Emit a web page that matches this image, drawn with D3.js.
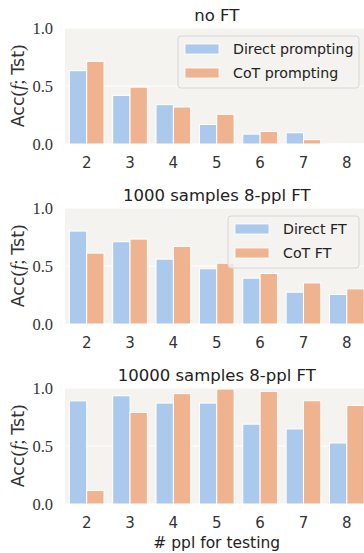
<!DOCTYPE html>
<html>
<head>
<meta charset="utf-8">
<script src="https://cdn.jsdelivr.net/npm/d3@7"></script>
<style>
  html, body { margin: 0; padding: 0; background: #ffffff; }
  svg { display: block; }
</style>
</head>
<body>
<svg id="chart" width="364" height="553"></svg>
<script>
// Number of people used at test time
const categories = ["2", "3", "4", "5", "6", "7", "8"];

// Panel titles
const titles = ["no FT", "1000 samples 8-ppl FT", "10000 samples 8-ppl FT"];

// Legend labels per panel (third panel has no legend)
const legendDirect = ["Direct prompting", "Direct FT", null];
const legendCoT = ["CoT prompting", "CoT FT", null];

// Accuracy values
const directNoFT = [0.632, 0.419, 0.339, 0.168, 0.085, 0.097, 0.004];
const cotNoFT    = [0.712, 0.490, 0.319, 0.256, 0.108, 0.037, 0.003];

const direct1k = [0.801, 0.709, 0.559, 0.476, 0.395, 0.274, 0.254];
const cot1k    = [0.611, 0.732, 0.669, 0.524, 0.435, 0.354, 0.303];

const direct10k = [0.889, 0.933, 0.870, 0.870, 0.688, 0.647, 0.526];
const cot10k    = [0.116, 0.789, 0.951, 0.991, 0.971, 0.890, 0.850];

const yTicks = [0.0, 0.5, 1.0];
const xLabel = "# ppl for testing";

const panels = [
  { title: titles[0], direct: directNoFT, cot: cotNoFT, legD: legendDirect[0], legC: legendCoT[0] },
  { title: titles[1], direct: direct1k,   cot: cot1k,   legD: legendDirect[1], legC: legendCoT[1] },
  { title: titles[2], direct: direct10k,  cot: cot10k,  legD: legendDirect[2], legC: legendCoT[2] }
];

const colDirect = "#abc9ec";
const colCoT = "#efb48f";
const bgCol = "#f4f3ef";

const sansFont = "'DejaVu Sans', sans-serif";
const serifFont = "'Liberation Serif', 'DejaVu Serif', serif";

const svg = d3.select("#chart");

const plotLeft = 65;
const plotRight = 368.5;
const plotH = 116;
const panelTops = [28, 208, 388];

const x = d3.scaleBand()
  .domain(categories)
  .range([plotLeft, plotRight])
  .paddingInner(0.2)
  .paddingOuter(0.1);

// inner scale for the two series within a category
const xSub = d3.scaleBand()
  .domain(["direct", "cot"])
  .range([0, x.bandwidth()]);

panels.forEach((p, i) => {
  const top = panelTops[i];
  const y = d3.scaleLinear().domain([0, 1]).range([top + plotH, top]);
  const g = svg.append("g");

  // plot background
  g.append("rect")
    .attr("x", plotLeft).attr("y", top)
    .attr("width", plotRight - plotLeft).attr("height", plotH)
    .attr("fill", bgCol);

  // horizontal grid lines
  g.selectAll("line.grid").data(yTicks).enter().append("line")
    .attr("x1", plotLeft).attr("x2", plotRight)
    .attr("y1", d => y(d)).attr("y2", d => y(d))
    .attr("stroke", "#ffffff").attr("stroke-width", 1);

  // bars
  const rows = categories.map((c, k) => ({ c, direct: p.direct[k], cot: p.cot[k] }));
  const grp = g.selectAll("g.cat").data(rows).enter().append("g")
    .attr("transform", d => `translate(${x(d.c)},0)`);
  ["direct", "cot"].forEach(key => {
    grp.append("rect")
      .attr("x", xSub(key))
      .attr("width", xSub.bandwidth())
      .attr("y", d => y(d[key]))
      .attr("height", d => y(0) - y(d[key]))
      .attr("fill", key === "direct" ? colDirect : colCoT)
      .attr("stroke", "#ffffff")
      .attr("stroke-width", 1);
  });

  // y tick labels
  g.selectAll("text.ytick").data(yTicks).enter().append("text")
    .attr("x", 53).attr("y", d => y(d))
    .attr("dy", "0.35em")
    .attr("text-anchor", "end")
    .attr("font-family", serifFont)
    .attr("font-size", 16.5)
    .attr("fill", "#333333")
    .text(d => d.toFixed(1));

  // x tick labels
  g.selectAll("text.xtick").data(categories).enter().append("text")
    .attr("x", d => x(d) + x.bandwidth() / 2)
    .attr("y", top + plotH + 19)
    .attr("dy", "0.35em")
    .attr("text-anchor", "middle")
    .attr("font-family", sansFont)
    .attr("font-size", 15)
    .attr("fill", "#333333")
    .text(d => d);

  // title
  g.append("text")
    .attr("x", (plotLeft + plotRight) / 2)
    .attr("y", top - 13)
    .attr("dy", "0.35em")
    .attr("text-anchor", "middle")
    .attr("font-family", sansFont)
    .attr("font-size", 16.5)
    .attr("fill", "#222222")
    .text(p.title);

  // y axis label: Acc(f;Tst)
  const yl = g.append("text")
    .attr("transform", `translate(24,${top + plotH / 2}) rotate(-90)`)
    .attr("text-anchor", "middle")
    .attr("font-size", 17.5)
    .attr("fill", "#333333");
  yl.append("tspan").attr("font-family", sansFont).text("Acc");
  yl.append("tspan").attr("font-family", serifFont).attr("font-size", 19).text("(");
  yl.append("tspan").attr("font-family", serifFont).attr("font-style", "italic").attr("font-size", 19).text("f");
  yl.append("tspan").attr("font-family", serifFont).attr("font-size", 19).text("; ");
  yl.append("tspan").attr("font-family", sansFont).text("Tst");
  yl.append("tspan").attr("font-family", serifFont).attr("font-size", 19).text(")");

  // legend
  if (p.legD) {
    const lw = i === 0 ? 181 : 131;
    const lx = 359 - lw;
    const ly = top + 8;
    const lg = g.append("g");
    lg.append("rect")
      .attr("x", lx).attr("y", ly).attr("width", lw).attr("height", 52)
      .attr("rx", 3).attr("ry", 3)
      .attr("fill", bgCol).attr("fill-opacity", 0.8)
      .attr("stroke", "#d6d6d6").attr("stroke-width", 1);
    const items = [{ label: p.legD, color: colDirect }, { label: p.legC, color: colCoT }];
    items.forEach((it, k) => {
      const cy = ly + 13 + k * 24;
      lg.append("rect")
        .attr("x", lx + 7).attr("y", cy - 5)
        .attr("width", 34).attr("height", 10)
        .attr("fill", it.color).attr("stroke", "#ffffff").attr("stroke-width", 0.8);
      lg.append("text")
        .attr("x", lx + 55).attr("y", cy)
        .attr("dy", "0.35em")
        .attr("font-family", sansFont)
        .attr("font-size", 14.2)
        .attr("fill", "#222222")
        .text(it.label);
    });
  }
});

// shared x axis label
svg.append("text")
  .attr("x", (plotLeft + plotRight) / 2)
  .attr("y", 543)
  .attr("dy", "0.35em")
  .attr("text-anchor", "middle")
  .attr("font-family", sansFont)
  .attr("font-size", 15.5)
  .attr("fill", "#222222")
  .text(xLabel);
</script>
</body>
</html>
